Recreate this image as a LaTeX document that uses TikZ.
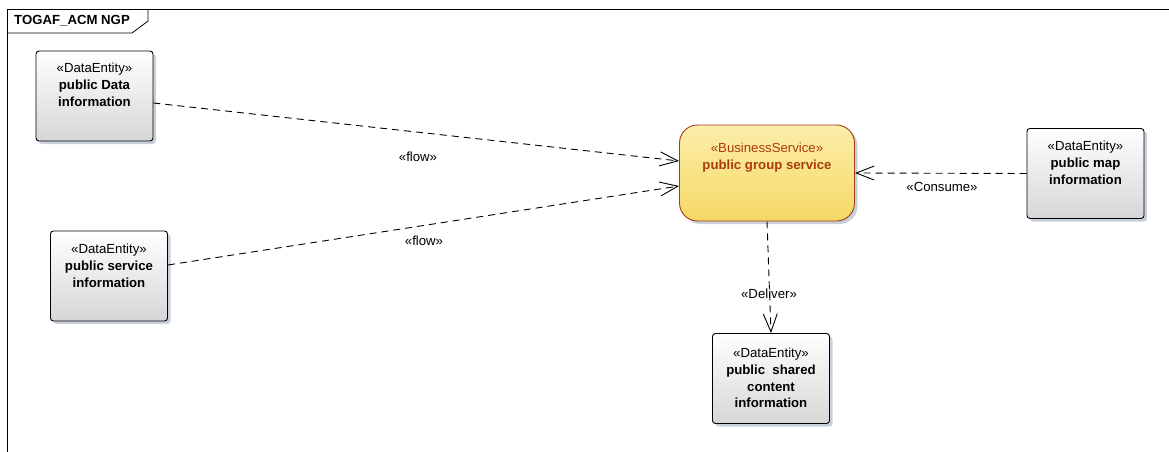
\documentclass[tikz,border=0pt]{standalone}
\usepackage{fontspec}
\setmainfont{Liberation Sans}
\usetikzlibrary{arrows.meta,shadows,calc}
\definecolor{shadowc}{RGB}{200,208,222}
\definecolor{boxbot}{RGB}{214,214,214}
\definecolor{svctop}{RGB}{252,238,170}
\definecolor{svcbot}{RGB}{245,216,100}
\definecolor{svcline}{RGB}{165,60,30}
\definecolor{svctext}{RGB}{170,60,15}
\begin{document}
\begin{tikzpicture}[x=1pt,y=-1pt,
  font=\fontsize{13.2}{16.8}\selectfont,
  entity/.style={draw=black, line width=0.9pt, rounded corners=3pt,
    minimum width=117pt, minimum height=90pt, inner sep=0pt,
    top color=white, bottom color=boxbot,
    drop shadow={shadow xshift=3pt, shadow yshift=-3pt, fill=shadowc, opacity=1}},
  svcbox/.style={draw=svcline, line width=0.9pt, rounded corners=18pt,
    minimum width=175pt, minimum height=96pt, inner sep=0pt,
    top color=svctop, bottom color=svcbot,
    drop shadow={shadow xshift=3pt, shadow yshift=-3pt, fill=shadowc, opacity=1}},
  txt/.style={align=center, inner sep=0pt},
  conn/.style={line width=0.9pt, dash pattern=on 7pt off 5pt,
    -{Straight Barb[length=18pt,width=14pt,line width=0.9pt]}},
  lbl/.style={inner sep=0pt}
]
\useasboundingbox (0,0) rectangle (1169,452);
% frame
\draw[line width=0.8pt] (7,452) -- (7,9) -- (1169,9);
\draw[line width=0.8pt] (7,33) -- (132,33) -- (148,21) -- (148,9);
\node[lbl, anchor=west, font=\fontsize{13.2}{15}\selectfont\bfseries] (title) at (14,21) {TOGAF\_ACM NGP};

% boxes
\node[entity] (b1) at (94.5,96) {};
\node[txt] (b1t) at (94.5,85) {«DataEntity»\\\textbf{public Data}\\\textbf{information}};

\node[entity] (b2) at (109,276) {};
\node[txt] (b2t) at (109,265.5) {«DataEntity»\\\textbf{public service}\\\textbf{information}};

\node[entity] (b3) at (1085.5,173.5) {};
\node[txt] (b3t) at (1085.5,163) {«DataEntity»\\\textbf{public map}\\\textbf{information}};

\node[entity] (b4) at (771,378.5) {};
\node[txt] (b4t) at (771,378) {«DataEntity»\\\textbf{public~~shared}\\\textbf{content}\\\textbf{information}};

\node[svcbox] (svc) at (767,173) {};
\node[txt, text=svctext] (svct) at (767,157.5) {«BusinessService»\\\textbf{public group service}};

% connectors
\draw[conn] ($(b1.east)+(0,7)$) -- ($(svc.west)+(0,-12)$);
\draw[conn] ($(b2.east)+(0,-11)$) -- ($(svc.west)+(0,13)$);
\draw[conn] (b3.west) -- (svc.east);
\draw[conn] (svc.south) -- (b4.north);

% labels
\node[lbl] (l1) at (418,157) {«flow»};
\node[lbl] (l2) at (424,241) {«flow»};
\node[lbl] (l3) at (942,187) {«Consume»};
\node[lbl] (l4) at (769,294) {«Deliver»};
\end{tikzpicture}
\end{document}
